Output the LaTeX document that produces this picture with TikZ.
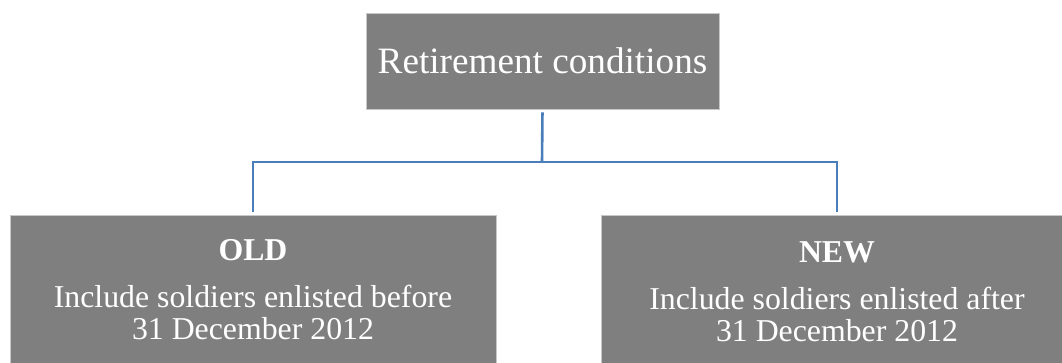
\documentclass[tikz,border=0pt]{standalone}
\usepackage{fontspec}
\setmainfont{Liberation Serif}
\definecolor{boxgray}{HTML}{7F7F7F}
\definecolor{boxedge}{HTML}{C8C8C8}
\definecolor{connblue}{HTML}{4A7EBB}
\tikzset{
  graybox/.style={rectangle, fill=boxgray, draw=boxedge, line width=0.8pt, inner sep=0pt},
  conn/.style={draw=connblue, line width=2.6pt},
  boxtext/.style={text=white, align=center, inner sep=0pt, font=\fontsize{31.8}{32}\selectfont}
}
\begin{document}
\begin{tikzpicture}[x=1pt,y=-1pt]
\useasboundingbox (0,0) rectangle (1062,362);
\clip (0,0) rectangle (1062,362);
\node[graybox, minimum width=353pt, minimum height=96pt, text=white, font=\fontsize{37.2}{40}\selectfont] (top) at (542.5,61) {Retirement conditions};
\node[graybox, minimum width=486pt, minimum height=170pt, anchor=north] (old) at (253,215) {};
\node[graybox, minimum width=472pt, minimum height=170pt, anchor=north] (new) at (837,215) {};
\node[boxtext, anchor=north] (oldt) at (253,239.5) {\textbf{OLD}\\[15pt]Include soldiers enlisted before\\31 December 2012};
\node[boxtext, anchor=north] (newt) at (837,241) {\textbf{NEW}\\[15pt]Include soldiers enlisted after\\31 December 2012};
\coordinate (mid) at (542,162);
\draw[conn, shorten <=3pt] (top.south) -- (mid);
\draw[conn, shorten >=3pt] (mid) -| (old.north);
\draw[conn, shorten >=3pt] (mid) -| (new.north);
\end{tikzpicture}
\end{document}
